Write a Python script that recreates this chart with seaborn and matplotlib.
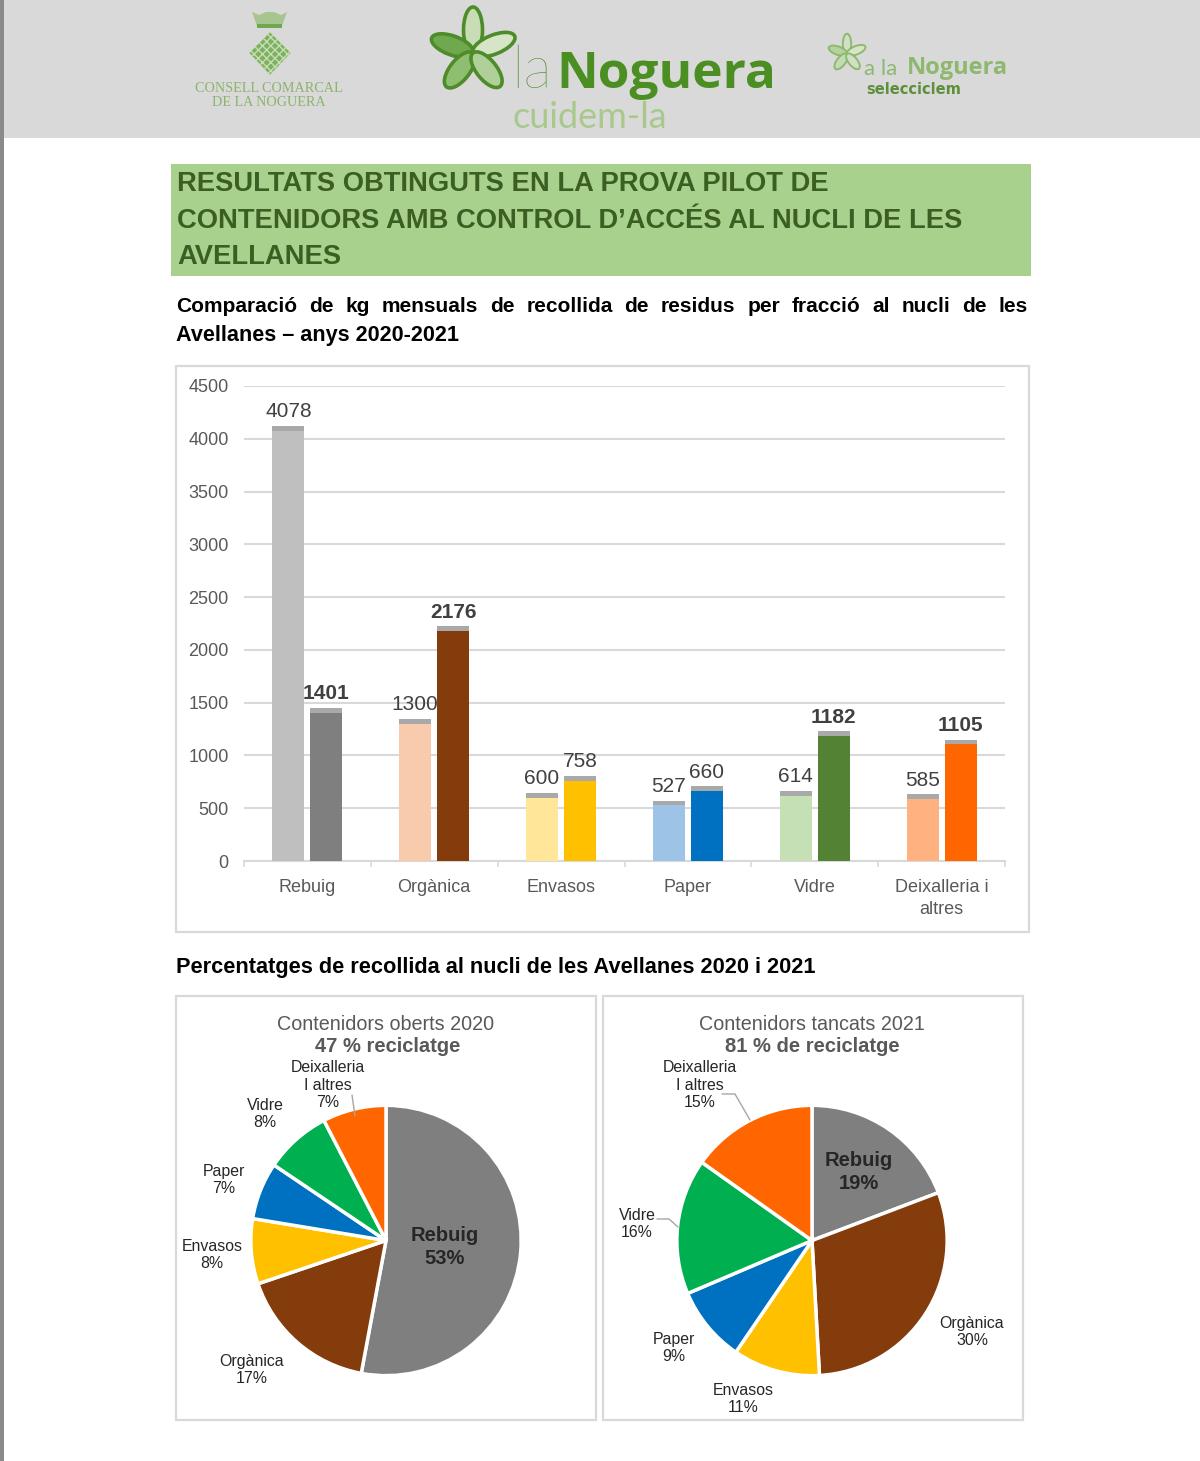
import math
import pandas as pd
import seaborn as sns
import matplotlib
matplotlib.use('Agg')
import matplotlib.pyplot as plt
from matplotlib.patches import Ellipse, Rectangle, Polygon
from matplotlib.patheffects import SimplePatchShadow, Normal

W, H = 1200, 1461

categories = ['Rebuig', 'Orgànica', 'Envasos', 'Paper', 'Vidre', 'Deixalleria i\naltres']
kg_2020 = [4078, 1300, 600, 527, 614, 585]
kg_2021 = [1401, 2176, 758, 660, 1182, 1105]
pale_colors = ['#BFBFBF', '#F8CBAD', '#FFE699', '#9DC3E6', '#C5E0B4', '#FFB27F']
dark_colors = ['#7F7F7F', '#843C0C', '#FFC000', '#0070C0', '#548235', '#FF6600']
pie_colors = ['#7F7F7F', '#843C0C', '#FFC000', '#0070C0', '#00B050', '#FF6600']
y_ticks = [0, 500, 1000, 1500, 2000, 2500, 3000, 3500, 4000, 4500]
bold_labels_2021 = [1401, 2176, 1182, 1105]

title_lines = ['RESULTATS OBTINGUTS EN LA PROVA PILOT DE',
               'CONTENIDORS AMB CONTROL D’ACCÉS AL NUCLI DE LES',
               'AVELLANES']
subtitle_1 = 'Comparació de kg mensuals de recollida de residus per fracció al nucli de les'
subtitle_2 = 'Avellanes – anys 2020-2021'
subtitle_3 = 'Percentatges de recollida al nucli de les Avellanes 2020 i 2021'

sns.set_theme(style='white')
plt.rcParams['font.family'] = ['Liberation Sans', 'DejaVu Sans']

fig = plt.figure(figsize=(W / 100, H / 100), dpi=100, facecolor='white')


def px_axes(x0, y0, x1, y1, **kw):
    return fig.add_axes([x0 / W, 1 - y1 / H, (x1 - x0) / W, (y1 - y0) / H], **kw)


# bar chart
df = pd.DataFrame({
    'fraccio': categories * 2,
    'kg': kg_2020 + kg_2021,
    'any': ['2020'] * 6 + ['2021'] * 6,
})
ax = px_axes(244, 386, 1005, 861)
ax.patch.set_alpha(0)
sns.barplot(data=df, x='fraccio', y='kg', hue='any', width=0.6, gap=0.16,
            legend=False, ax=ax, zorder=3, saturation=1)
for cont, cols in zip(ax.containers, [pale_colors, dark_colors]):
    for bar, c in zip(cont, cols):
        bar.set_facecolor(c)
        bar.set_edgecolor('none')
        bar.set_path_effects([SimplePatchShadow(offset=(0, 3.5), shadow_rgbFace='#8C8C8C', alpha=0.75), Normal()])
    labels = ax.bar_label(cont, padding=7, fontsize=15, color='#404040', zorder=5)
    for t in labels:
        if int(t.get_text()) in bold_labels_2021:
            t.set_fontweight('bold')
ax.set_xlim(-0.5, 5.5)
ax.set_ylim(0, 4500)
ax.set_yticks(y_ticks)
ax.set_xlabel('')
ax.set_ylabel('')
ax.grid(axis='y', color='#D9D9D9', lw=1.5, zorder=0)
ax.set_axisbelow(True)
sns.despine(ax=ax, left=True, top=True, right=True)
ax.spines['bottom'].set_color('#D9D9D9')
ax.spines['bottom'].set_linewidth(1.5)
ax.set_xticks([i - 0.5 for i in range(7)], minor=True)
ax.tick_params(axis='x', which='minor', bottom=True, length=4.5, width=1.2, color='#D9D9D9')
ax.tick_params(axis='x', which='major', length=0, pad=13, labelsize=13, labelcolor='#595959')
ax.tick_params(axis='y', length=0, pad=11, labelsize=13, labelcolor='#595959')
for t in ax.get_xticklabels():
    t.set_linespacing(1.4)

# pies
for cx, vals in [(386, kg_2020), (812, kg_2021)]:
    r = 136.5
    pa = px_axes(cx - r, 1240.5 - r, cx + r, 1240.5 + r)
    pa.patch.set_alpha(0)
    pa.pie(vals, colors=pie_colors, startangle=90, counterclock=False,
           wedgeprops={'edgecolor': 'white', 'linewidth': 2.5})
    pa.set_xlim(-1.01, 1.01)
    pa.set_ylim(-1.01, 1.01)

# page elements on a pixel layer
pg = fig.add_axes([0, 0, 1, 1], zorder=10)
pg.set_xlim(0, W)
pg.set_ylim(H, 0)
pg.axis('off')
pg.patch.set_alpha(0)

pg.add_patch(Rectangle((0, 0), W, 138, color='#D9D9D9', lw=0))
pg.add_patch(Rectangle((0, 0), 4, H, color='#8A8A8A', lw=0))
pg.add_patch(Rectangle((171, 164), 860, 112, color='#A9D18E', lw=0))
for box in [(176, 366, 853, 566), (176, 996, 420, 424), (603, 996, 420, 424)]:
    pg.add_patch(Rectangle(box[:2], box[2], box[3], fill=False, ec='#D9D9D9', lw=1.6))


def flower(cx, cy, s, edge, fills):
    # angle, length, width of each petal
    petals = [(-90, 46, 19), (-160, 44, 19), (-22, 45, 19), (128, 43, 20), (51, 43, 20)]
    for (ang, ln, wd), c in zip(petals, fills):
        dx, dy = math.cos(math.radians(ang)), math.sin(math.radians(ang))
        pg.add_patch(Ellipse((cx + dx * ln * s / 2, cy + dy * ln * s / 2), ln * s, wd * s, angle=ang,
                             fc=c, ec=edge, lw=2.2 * s + 0.4))


# logos
flower(473, 53, 1.0, '#4E8C2A', ['#C8DDB6', '#6FA84E', '#D5E5C6', '#8FBE70', '#AFD098'])
pg.text(511, 88, 'la', fontsize=43, family='Lato', weight='light', color='#4E8C2A', va='baseline')
pg.text(556, 88, 'Noguera', fontsize=37, family='Open Sans', weight='bold', color='#4B8F22', va='baseline')
pg.text(513, 128, 'cuidem-la', fontsize=26, family='Lato', color='#A9C98C', va='baseline')

flower(847, 54, 0.44, '#8DB870', ['#D2DFC4', '#B5D19E', '#D5E5C6', '#C5DAB2', '#D2DFC4'])
pg.text(864, 75, 'a la', fontsize=16, family='Lato', color='#8DB870', va='baseline')
pg.text(907, 74, 'Noguera', fontsize=17, family='Open Sans', weight='bold', color='#8DB870', va='baseline')
pg.text(866, 94, 'selecciclem', fontsize=10.5, family='DejaVu Sans', weight='bold', color='#5E8F3A', va='baseline')

pg.add_patch(Polygon([(270, 32), (291, 53), (270, 75), (249, 53)], fc='#7DB05F', ec='#C7DDB6', hatch='xxxx', lw=0.5))
pg.add_patch(Polygon([(252, 12), (259, 15), (266, 12), (274, 12), (281, 15), (287, 12), (282, 26), (257, 26)],
                     fc='#A6C58F', lw=0))
pg.add_patch(Rectangle((257, 24), 25, 4, fc='#6FA84E', lw=0))
pg.text(269, 88, 'CONSELL COMARCAL', fontsize=10.2, family='Liberation Serif', color='#8DB46F', ha='center', va='center')
pg.text(269, 103, 'DE LA NOGUERA', fontsize=10.2, family='Liberation Serif', color='#8DB46F', ha='center', va='center')

# headings
for line, y in zip(title_lines, [184, 221, 257]):
    pg.text(177, y, line, fontsize=19.7, weight='bold', color='#3B5E22', va='center')


def justified(text, x0, x1, y, **kw):
    words = text.split()
    items = [pg.text(x0, y, w, va='center', **kw) for w in words]
    rend = fig.canvas.get_renderer()
    widths = [t.get_window_extent(rend).width for t in items]
    gap = (x1 - x0 - sum(widths)) / (len(words) - 1)
    x = x0
    for t, w in zip(items, widths):
        t.set_x(x)
        x += w + gap


justified(subtitle_1, 176, 1028, 306, fontsize=15, weight='bold', color='black')
pg.text(176, 335, subtitle_2, fontsize=15.6, weight='bold', color='black', va='center')
pg.text(176, 967, subtitle_3, fontsize=15.7, weight='bold', color='black', va='center')

# pie headings
pg.text(386, 1024, 'Contenidors oberts 2020', fontsize=14.2, color='#595959', ha='center', va='center')
pg.text(388, 1047, '47 % reciclatge', fontsize=14.5, weight='bold', color='#595959', ha='center', va='center')
pg.text(812, 1024, 'Contenidors tancats 2021', fontsize=14.2, color='#595959', ha='center', va='center')
pg.text(812, 1047, '81 % de reciclatge', fontsize=14.5, weight='bold', color='#595959', ha='center', va='center')

# pie labels
pie_labels_2020 = [('Rebuig\n53%', 445, 1247, True), ('Orgànica\n17%', 252, 1370, False),
                   ('Envasos\n8%', 212, 1255, False), ('Paper\n7%', 224, 1180, False),
                   ('Vidre\n8%', 265, 1114, False), ('Deixalleria\nI altres\n7%', 328, 1085, False)]
pie_labels_2021 = [('Rebuig\n19%', 859, 1172, True), ('Orgànica\n30%', 972, 1332, False),
                   ('Envasos\n11%', 743, 1399, False), ('Paper\n9%', 674, 1348, False),
                   ('Vidre\n16%', 637, 1224, False), ('Deixalleria\nI altres\n15%', 700, 1085, False)]
for txt, x, y, big in pie_labels_2020 + pie_labels_2021:
    if big:
        pg.text(x, y, txt, fontsize=14.5, weight='bold', color='#262626', ha='center', va='center', linespacing=1.25)
    else:
        pg.text(x, y, txt, fontsize=11.4, color='#262626', ha='center', va='center', linespacing=1.22)

pg.plot([352, 355], [1095, 1116], color='#A6A6A6', lw=1)
pg.plot([722, 735, 750], [1094, 1094, 1120], color='#A6A6A6', lw=1)
pg.plot([657, 669, 678], [1219, 1219, 1227], color='#A6A6A6', lw=1)

fig.savefig('out.png', dpi=100)
